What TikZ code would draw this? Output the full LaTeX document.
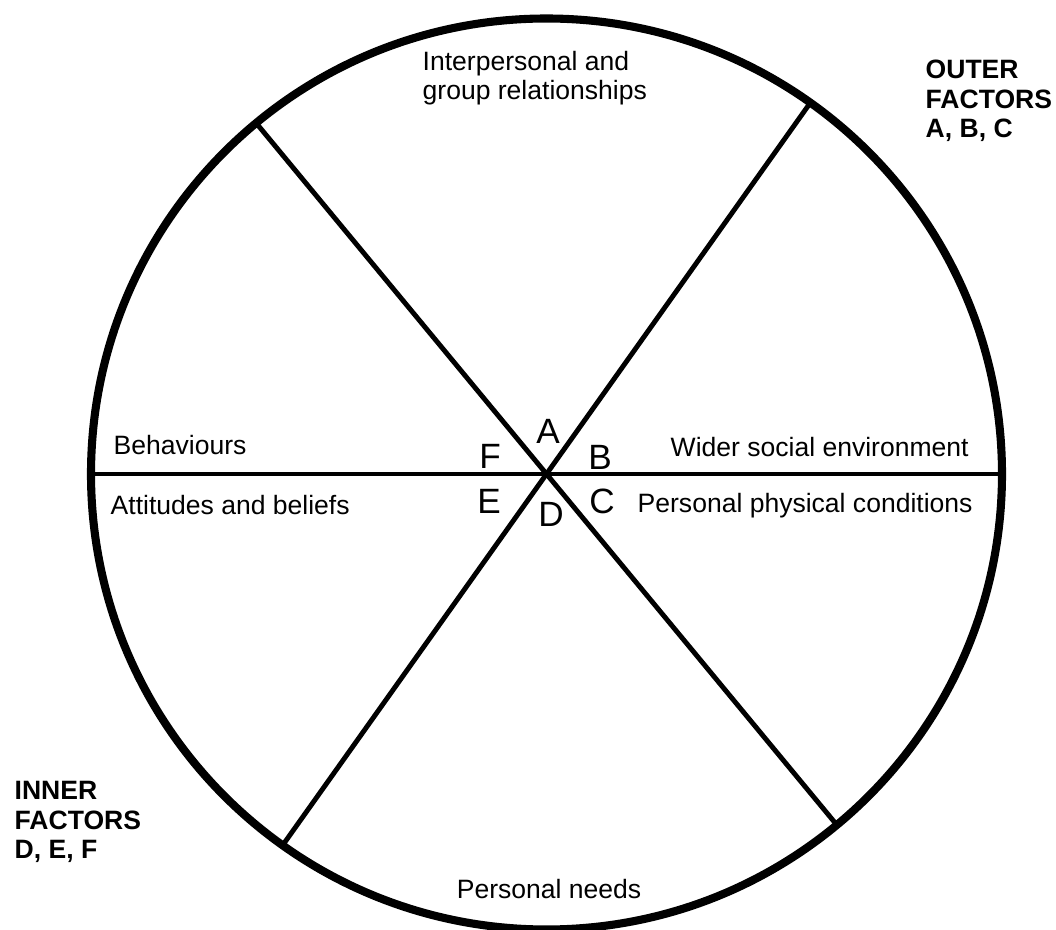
\documentclass[tikz,border=0pt]{standalone}
\usepackage{fontspec}
\setmainfont{Liberation Sans}
\tikzset{
  rim/.style={line width=2.3pt},
  spoke/.style={line width=1.4pt},
  lbl/.style={font=\fontsize{7.55}{8.4}\selectfont, inner sep=0pt, align=left},
  factors/.style={lbl, font=\fontsize{7.55}{8.4}\selectfont\bfseries},
  letter/.style={font=\fontsize{10}{12}\selectfont, inner sep=0pt}
}
\begin{document}
\begin{tikzpicture}[scale=1]
\useasboundingbox (0,0) rectangle (10.56,9.29);
\coordinate (O) at (5.465,4.55);
\coordinate (w) at ([shift={(180:4.555)}]O);
\coordinate (e) at ([shift={(0:4.555)}]O);
\coordinate (nw) at ([shift={(129.6:4.555)}]O);
\coordinate (se) at ([shift={(-50.4:4.555)}]O);
\coordinate (ne) at ([shift={(54.6:4.555)}]O);
\coordinate (sw) at ([shift={(234.6:4.555)}]O);

\draw[spoke] (w)--(e);
\draw[spoke] (nw)--(se);
\draw[spoke] (ne)--(sw);
\draw[rim] (O) circle (4.555);

\node (A) at (5.48,4.98) [letter]{A};
\node (B) at (6.00,4.72) [letter]{B};
\node (C) at (6.02,4.28) [letter]{C};
\node (D) at (5.51,4.15) [letter]{D};
\node (E) at (4.89,4.28) [letter]{E};
\node (F) at (4.90,4.73) [letter]{F};

\node (inter) at (4.22,8.29) [lbl,anchor=base west]{Interpersonal and\\group relationships};
\node (wider) at (6.70,4.72) [lbl,anchor=base west]{Wider social environment};
\node (phys) at (6.37,4.16) [lbl,anchor=base west]{Personal physical conditions};
\node (needs) at (5.49,0.31) [lbl,anchor=base]{Personal needs};
\node (attit) at (1.10,4.14) [lbl,anchor=base west]{Attitudes and beliefs};
\node (behav) at (1.13,4.74) [lbl,anchor=base west]{Behaviours};

\node (outer) at (9.25,7.91) [factors,anchor=base west]{OUTER\\FACTORS\\A, B, C};
\node (inner) at (0.14,0.70) [factors,anchor=base west]{INNER\\FACTORS\\D, E, F};
\end{tikzpicture}
\end{document}
